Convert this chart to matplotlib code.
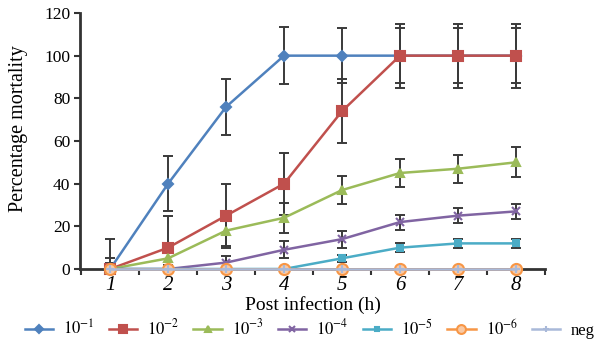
import numpy as np
import matplotlib.pyplot as plt

plt.rcParams['font.family'] = ['Liberation Serif', 'DejaVu Serif']
plt.rcParams['mathtext.fontset'] = 'stix'

hours = [1, 2, 3, 4, 5, 6, 7, 8]
labels = ['$10^{-1}$', '$10^{-2}$', '$10^{-3}$', '$10^{-4}$', '$10^{-5}$', '$10^{-6}$', 'neg']

d1 = [0, 40, 76, 100, 100, 100, 100, 100]
e1 = [14, 13, 13, 13.5, 13, 13, 13, 13]
d2 = [0, 10, 25, 40, 74, 100, 100, 100]
e2 = [5, 15, 15, 14.5, 15, 15, 15, 15]
d3 = [0, 5, 18, 24, 37, 45, 47, 50]
e3 = [3, 3, 7, 7, 6.5, 6.5, 6.5, 7]
d4 = [0, 0, 3, 9, 14, 22, 25, 27]
e4 = [0, 0, 3, 4, 4, 3.5, 3.5, 3.5]
d5 = [0, 0, 0, 0, 5, 10, 12, 12]
e5 = [0, 0, 0, 0, 1.5, 2, 2, 2]
d6 = [0, 0, 0, 0, 0, 0, 0, 0]
dneg = [0, 0, 0, 0, 0, 0, 0, 0]

colors = ['#4F81BD', '#C0504D', '#9BBB59', '#8064A2', '#4BACC6', '#F79646', '#A9B9D9']
markers = ['D', 's', '^', 'x', 's', 'o', '+']
msizes = [5, 7, 6, 6, 4, 8, 6]

fig = plt.figure(figsize=(6.13, 3.39), dpi=100)
ax = fig.add_axes([0.1305, 0.2065, 0.7585, 0.7552])

series = [(d1, e1), (d2, e2), (d3, e3), (d4, e4), (d5, e5), (d6, None), (dneg, None)]
for i, (d, e) in enumerate(series):
    if e is not None:
        ax.errorbar(hours, d, yerr=e, fmt='none', ecolor='#3a3a3a', elinewidth=1.4,
                    capsize=3.5, capthick=1.4, zorder=2)
for i, (d, e) in enumerate(series):
    mfc = colors[i]
    if markers[i] == 'o':
        mfc = '#F9C9A4'
    ax.plot(hours, d, color=colors[i], lw=1.8, marker=markers[i], ms=msizes[i],
            mfc=mfc, mec=colors[i], mew=1.5, label=labels[i], zorder=3 + i * 0.01,
            clip_on=False)

ax.set_xlim(0.48, 8.5)
ax.set_ylim(0, 120)
ax.set_yticks(np.arange(0, 121, 20))
ax.set_xticks(hours)
ax.set_xticklabels([str(h) for h in hours], fontstyle='italic', fontsize=15)
ax.set_xticks(np.arange(0.5, 8.6, 1), minor=True)
ax.tick_params(axis='x', which='major', length=0, pad=5)
ax.tick_params(axis='x', which='minor', length=4, width=1.5, direction='out', color='#333333')
ax.tick_params(axis='y', length=4, width=1.5, direction='out', color='#333333', labelsize=12.5, pad=3)
for s in ['top', 'right']:
    ax.spines[s].set_visible(False)
for s in ['left', 'bottom']:
    ax.spines[s].set_linewidth(2)
    ax.spines[s].set_color('#333333')

ax.set_ylabel('Percentage mortality', fontsize=14.5)
ax.yaxis.set_label_coords(-0.112, 0.55)
ax.set_xlabel('Post infection (h)', fontsize=14, labelpad=1)

leg = fig.legend(loc='center left', bbox_to_anchor=(0.04, 0.03), ncol=7, frameon=False,
                 fontsize=12, handlelength=1.7, columnspacing=0.85, handletextpad=0.6,
                 borderaxespad=0, borderpad=0)
for h in leg.legend_handles:
    h.set_markersize(h.get_markersize() * 0.8)

fig.savefig('out.png', dpi=100)
